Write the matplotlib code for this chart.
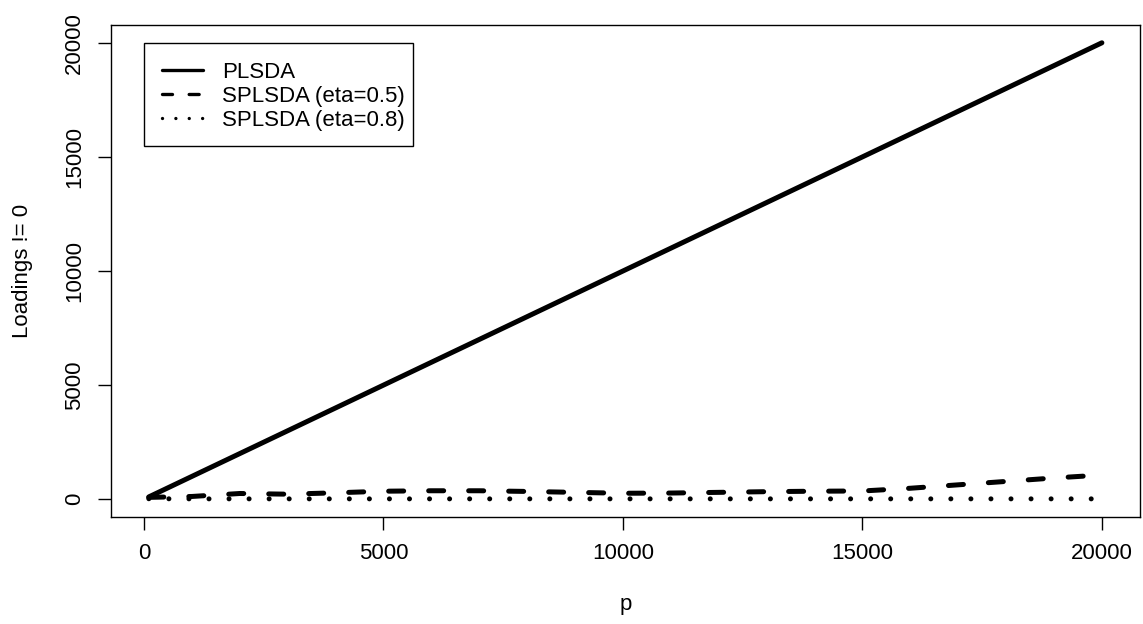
import matplotlib
matplotlib.use("Agg")
import matplotlib.pyplot as plt
from matplotlib.lines import Line2D
from matplotlib.patches import Rectangle

plt.rcParams["font.family"] = ["Liberation Sans", "DejaVu Sans"]
plt.rcParams["font.size"] = 16

# ---------- dados ----------
p = [100, 1000, 2000, 3000, 4000, 5000, 6000, 7000, 8000, 9000, 10000,
     11000, 12000, 13000, 14000, 15000, 16000, 17000, 18000, 19000, 20000]
plsda = [100, 1000, 2000, 3000, 4000, 5000, 6000, 7000, 8000, 9000, 10000,
         11000, 12000, 13000, 14000, 15000, 16000, 17000, 18000, 19000, 20000]
splsda_05 = [80, 120, 250, 220, 280, 350, 370, 370, 340, 300, 260,
             270, 300, 330, 350, 360, 480, 630, 780, 930, 1060]
splsda_08 = [20, 15, 15, 15, 15, 15, 15, 15, 15, 15, 15,
             15, 15, 15, 15, 15, 15, 15, 15, 15, 15]
labels = ["PLSDA", "SPLSDA (eta=0.5)", "SPLSDA (eta=0.8)"]

W, H = 1143, 624
fig = plt.figure(figsize=(W / 100, H / 100), dpi=100)
# eixo em pixels: esquerda 110.7, direita 1140, topo 25, base 517
ax = fig.add_axes([110.7 / W, (H - 517) / H, (1140 - 110.7) / W, (517 - 25) / H])

LW = 3.6
ax.plot(p, plsda, color="black", lw=LW, solid_capstyle="round")
ax.plot(p, splsda_05, color="black", lw=LW, dashes=(3, 5), dash_capstyle="round")
ax.plot(p, splsda_08, color="black", lw=LW, dashes=(0.01, 4), dash_capstyle="round")

ax.set_xlim(-696, 20796)
ax.set_ylim(-780, 20780)
ax.set_xticks([0, 5000, 10000, 15000, 20000])
ax.set_yticks([0, 5000, 10000, 15000, 20000])
ax.tick_params(length=9.5, width=1, pad=9, labelsize=16)
for lb in ax.get_yticklabels():
    lb.set_rotation(90)
    lb.set_va("center")
for s in ax.spines.values():
    s.set_linewidth(1)

ax.set_xlabel("p", fontsize=16, labelpad=22)
ax.set_ylabel("Loadings != 0", fontsize=16, labelpad=22)

# legenda (caixa desenhada à parte, como no R)
handles = [Line2D([], [], color="black", lw=2.4, solid_capstyle="round"),
           Line2D([], [], color="black", lw=2.4, dashes=(3, 5), dash_capstyle="round"),
           Line2D([], [], color="black", lw=2.4, dashes=(0.01, 4), dash_capstyle="round")]
fig.legend(handles, labels, loc="upper left", frameon=False,
           bbox_to_anchor=(162 / W, 1 - 61.5 / H), borderpad=0, borderaxespad=0,
           handlelength=1.85, handletextpad=0.84, labelspacing=0.15, fontsize=16)
fig.patches.append(Rectangle((144 / W, 1 - 146 / H), (413 - 144) / W, (146 - 42.7) / H,
                             transform=fig.transFigure, fill=False, ec="black", lw=1))

fig.savefig("out.png", dpi=100)
